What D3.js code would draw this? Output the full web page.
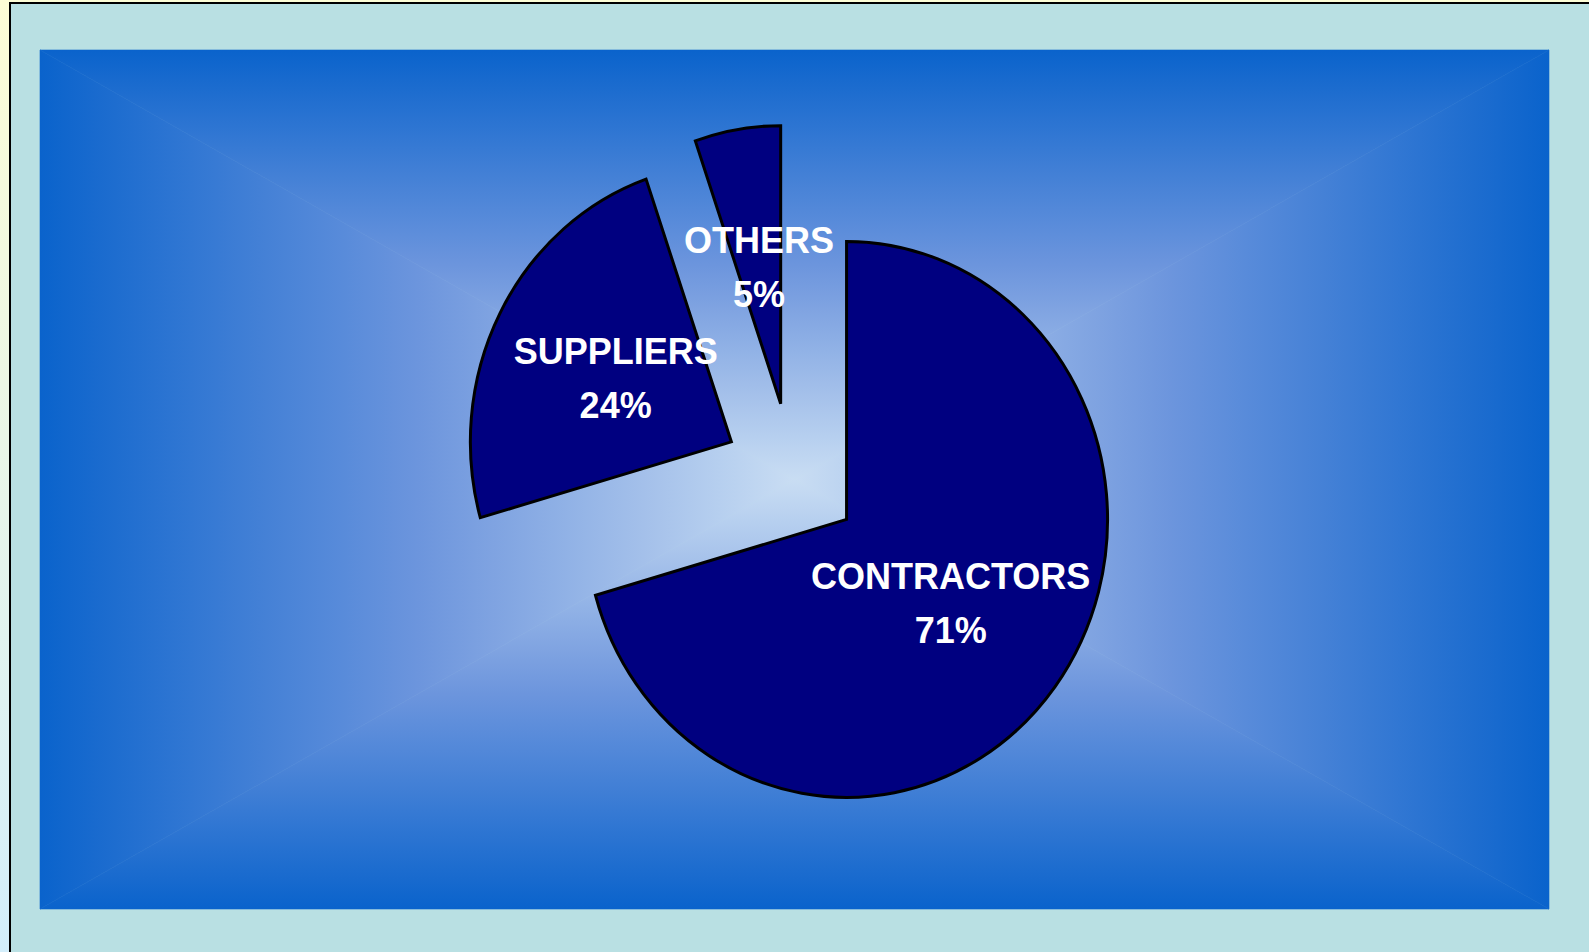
<!DOCTYPE html>
<html>
<head>
<meta charset="utf-8">
<script src="https://cdn.jsdelivr.net/npm/d3@7"></script>
<style>
    html, body { margin: 0; padding: 0; overflow: hidden; }
</style>
</head>
<body>
<div id="chart"></div>
<script>
//pie data
const categories = ["CONTRACTORS", "SUPPLIERS", "OTHERS"];
const values = [70.6, 24.1, 5.3];

const width = 1589,
    height = 952;

//plot area inside the frame
const plot = { left: 40, top: 50, right: 1549, bottom: 909 };

//pie geometry (slightly taller than wide, every slice pulled out)
const pieCfg = { cx: 792, cy: 475.5, rx: 261, ry: 278, explode: 0.262 };

//background colours, edge -> middle -> centre
const bgStops = ["#0a63cc", "#6c95dd", "#c9ddf3"];

let svg = d3.select("#chart").append("svg")
    .attr("width", width)
    .attr("height", height);

let defs = svg.append("defs");

//page background, yellow fading to pale blue
let pageGrad = defs.append("linearGradient")
    .attr("id", "page_grad")
    .attr("x1", "0%").attr("y1", "0%")
    .attr("x2", "0%").attr("y2", "100%");
pageGrad.append("stop").attr("offset", "0%").attr("stop-color", "#fdfdd6");
pageGrad.append("stop").attr("offset", "100%").attr("stop-color", "#d3eefb");

svg.append("rect")
    .attr("width", width)
    .attr("height", height)
    .style("fill", "url(#page_grad)");

//frame
svg.append("rect")
    .attr("x", 10)
    .attr("y", 3)
    .attr("width", width + 20)
    .attr("height", height + 20)
    .style("fill", "#b9e0e3")
    .style("stroke", "#000")
    .style("stroke-width", 2);

//rectangular "from center" gradient, made of 4 triangles
let pcx = (plot.left + plot.right) / 2,
    pcy = (plot.top + plot.bottom) / 2;

let tris = [
    { id: "g_top", pts: [[plot.left, plot.top], [plot.right, plot.top], [pcx, pcy]], from: [pcx, plot.top] },
    { id: "g_bottom", pts: [[plot.left, plot.bottom], [plot.right, plot.bottom], [pcx, pcy]], from: [pcx, plot.bottom] },
    { id: "g_left", pts: [[plot.left, plot.top], [plot.left, plot.bottom], [pcx, pcy]], from: [plot.left, pcy] },
    { id: "g_right", pts: [[plot.right, plot.top], [plot.right, plot.bottom], [pcx, pcy]], from: [plot.right, pcy] }
];

let colorAt = d3.scaleLinear()
    .domain([0, 0.5, 1])
    .range(bgStops)
    .interpolate(d3.interpolateRgb);

tris.forEach(t => {
    let g = defs.append("linearGradient")
        .attr("id", t.id)
        .attr("gradientUnits", "userSpaceOnUse")
        .attr("x1", t.from[0]).attr("y1", t.from[1])
        .attr("x2", pcx).attr("y2", pcy);
    for (let i = 0; i <= 10; i++) {
        g.append("stop")
            .attr("offset", (i * 10) + "%")
            .attr("stop-color", colorAt(i / 10));
    }
    svg.append("path")
        .attr("d", "M" + t.pts.map(p => p.join(",")).join("L") + "Z")
        .style("fill", "url(#" + t.id + ")")
        .style("stroke", "url(#" + t.id + ")")
        .style("stroke-width", 0.6);
});

//pie
let pie = d3.pie().sort(null).value(d => d);
let arcs = pie(values);

let arc = d3.arc()
    .innerRadius(0)
    .outerRadius(pieCfg.rx);

let sy = pieCfg.ry / pieCfg.rx;

//offset of a slice along its bisector
function sliceOffset(d) {
    let mid = (d.startAngle + d.endAngle) / 2;
    return {
        x: pieCfg.cx + pieCfg.explode * pieCfg.rx * Math.sin(mid),
        y: pieCfg.cy - pieCfg.explode * pieCfg.ry * Math.cos(mid)
    };
}

svg.selectAll(".slice")
    .data(arcs)
    .enter()
    .append("path")
    .attr("class", "slice")
    .attr("d", arc)
    .attr("transform", d => {
        let o = sliceOffset(d);
        return "translate(" + o.x + "," + o.y + ") scale(1," + sy + ")";
    })
    .attr("vector-effect", "non-scaling-stroke")
    .style("fill", "#000080")
    .style("stroke", "#000")
    .style("stroke-width", 3)
    .style("stroke-linejoin", "miter");

//labels at half radius on the bisector
let labels = svg.selectAll(".slice_label")
    .data(arcs)
    .enter()
    .append("text")
    .attr("class", "slice_label")
    .attr("transform", d => {
        let o = sliceOffset(d);
        let c = arc.centroid(d);
        return "translate(" + (o.x + c[0]) + "," + (o.y + c[1] * sy) + ")";
    })
    .style("font-family", "'Liberation Sans', Arial, sans-serif")
    .style("font-weight", "bold")
    .style("font-size", "36px")
    .style("fill", "#fff")
    .style("text-anchor", "middle");

labels.append("tspan")
    .attr("x", 0)
    .attr("y", -14)
    .text((d, i) => categories[i]);

labels.append("tspan")
    .attr("x", 0)
    .attr("y", 40)
    .text(d => Math.round(d.data) + "%");
</script>
</body>
</html>
